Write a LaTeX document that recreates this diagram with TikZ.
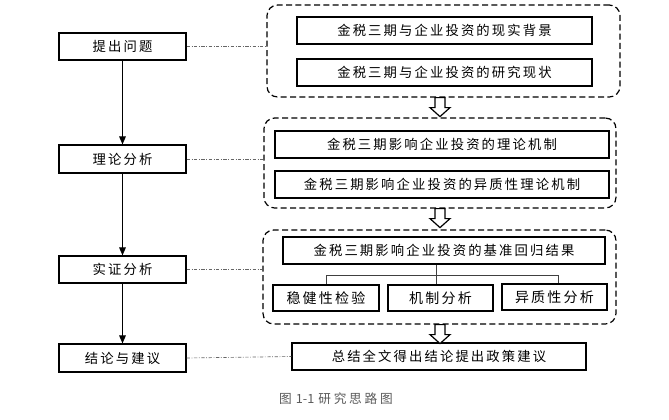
\documentclass[tikz,border=0pt]{standalone}
\usepackage{fontspec}
\newfontfamily\cjk[LetterSpace=16]{Noto Sans CJK SC}
\newfontfamily\cjkcap[LetterSpace=22]{Noto Sans CJK SC}
\newfontfamily\cjkplain{Noto Sans CJK SC}
\usetikzlibrary{arrows.meta}
\begin{document}
\begin{tikzpicture}[x=0.75pt,y=-0.75pt,
  box/.style={draw=black, line width=0.9pt, inner sep=0pt, align=center, font=\cjk\fontsize{10}{12}\selectfont},
  heavybox/.style={box, line width=1.5pt, font=\cjk\fontsize{10.5}{12}\selectfont},
  group/.style={draw=black, line width=0.9pt, dash pattern=on 4.5pt off 2.5pt, rounded corners=8pt, inner sep=0pt},
  link/.style={draw=black!60, line width=0.5pt, dash pattern=on 2.5pt off 1.2pt on 0.6pt off 1.2pt},
  flow/.style={draw=black, line width=0.7pt, -{Triangle[length=6pt,width=5pt]}},
  tree/.style={draw=black!75, line width=0.6pt},
  hollow/.pic={\draw[line width=0.9pt, fill=white] (-5,0) -- (5,0) -- (5,10) -- (10,10) -- (0,19) -- (-10,10) -- (-5,10) -- cycle;}
]
\useasboundingbox (0,0) rectangle (669,419);

% left column
\node[box, minimum width={127*0.75pt}, minimum height={27*0.75pt}] (l1) at (122.5,46.5) {提出问题};
\node[box, minimum width={127*0.75pt}, minimum height={28*0.75pt}] (l2) at (122.5,159) {理论分析};
\node[box, minimum width={127*0.75pt}, minimum height={27*0.75pt}] (l3) at (122.5,269.5) {实证分析};
\node[box, minimum width={127*0.75pt}, minimum height={28*0.75pt}] (l4) at (122.5,358) {结论与建议};
\draw[flow] (l1) -- (l2);
\draw[flow] (l2) -- (l3);
\draw[flow] (l3) -- (l4);

% group 1
\node[group, minimum width={353*0.75pt}, minimum height={92*0.75pt}] (g1) at (443.5,51) {};
\node[box, minimum width={295*0.75pt}, minimum height={27*0.75pt}] (a1) at (444.5,30.5) {金税三期与企业投资的现实背景};
\node[box, minimum width={295*0.75pt}, minimum height={27*0.75pt}] (a2) at (444.5,72.5) {金税三期与企业投资的研究现状};

% group 2
\node[group, minimum width={352*0.75pt}, minimum height={90*0.75pt}] (g2) at (440,163) {};
\node[box, line width=1.3pt, minimum width={334*0.75pt}, minimum height={27*0.75pt}] (b1) at (442,144.5) {金税三期影响企业投资的理论机制};
\node[box, line width=1.3pt, minimum width={334*0.75pt}, minimum height={27*0.75pt}] (b2) at (442,184.5) {金税三期影响企业投资的异质性理论机制};

% group 3
\node[group, minimum width={353*0.75pt}, minimum height={94*0.75pt}] (g3) at (439.5,277) {};
\node[box, line width=1.3pt, minimum width={322*0.75pt}, minimum height={27*0.75pt}] (c0) at (444,250.5) {金税三期影响企业投资的基准回归结果};
\node[heavybox, minimum width={106*0.75pt}, minimum height={26*0.75pt}] (c1) at (326,298) {稳健性检验};
\node[heavybox, minimum width={105*0.75pt}, minimum height={26*0.75pt}] (c2) at (440.5,298) {机制分析};
\node[heavybox, minimum width={105*0.75pt}, minimum height={26*0.75pt}] (c3) at (554.5,297) {异质性分析};
\coordinate (tj) at (436,275);
\draw[tree] (c0.south -| tj) -- (c2.north -| tj);
\draw[tree] (tj -| 326,0) -- (tj -| 558,0);
\draw[tree] (tj -| 326,0) -- (c1.north -| 326,0);
\draw[tree] (tj -| 558,0) -- (c3.north -| 558,0);

% conclusion
\node[box, minimum width={294*0.75pt}, minimum height={27*0.75pt}] (d) at (439,356.5) {总结全文得出结论提出政策建议};

% hollow arrows
\pic at (g1.south -| 440,0) {hollow};
\pic at (g2.south -| 440,0) {hollow};
\pic at (g3.south -| 440,0) {hollow};

% dash-dot links
\draw[link] (l1.east) -- (l1.east -| g1.west);
\draw[link] (l2.east) -- (l2.east -| g2.west);
\draw[link] (l3.east) -- (l3.east -| g3.west);
\draw[link] (l4.east) -- (d.west);

% caption
\node[font=\cjkplain\fontsize{9.5}{11}\selectfont, text=black!65] (cap) at (336,399) {{\cjkcap 图}\hspace{3pt}1-1\hspace{3pt}{\cjkcap 研究思路图}};
\end{tikzpicture}
\end{document}
